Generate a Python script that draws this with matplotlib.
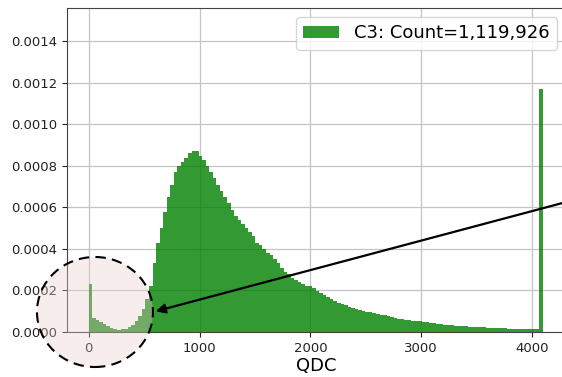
import numpy as np
import matplotlib
matplotlib.use("Agg")
import matplotlib.pyplot as plt
from matplotlib.patches import Ellipse
from matplotlib.ticker import FormatStrFormatter

# histogram bin width and normalised bin heights
bin_width = 32
density = [
    0.00023, 0.000066, 0.000060, 0.000050, 0.000040, 0.000030, 0.000020, 0.000014,
    0.000011, 0.000012, 0.000016, 0.000024, 0.000036, 0.000052, 0.000075, 0.000110,
    0.000160, 0.000220, 0.000330, 0.000430, 0.000500, 0.000580, 0.000650, 0.000710,
    0.000770, 0.000800, 0.000820, 0.000840, 0.000860, 0.000870, 0.000870, 0.000850,
    0.000830, 0.000800, 0.000770, 0.000740, 0.000710, 0.000680, 0.000650, 0.000620,
    0.000590, 0.000560, 0.000540, 0.000520, 0.000500, 0.000480, 0.000460, 0.000430,
    0.000420, 0.000400, 0.000380, 0.000370, 0.000350, 0.000330, 0.000310, 0.000290,
    0.000280, 0.000260, 0.000250, 0.000240, 0.000230, 0.000220, 0.000220, 0.000210,
    0.000198, 0.000188, 0.000178, 0.000168, 0.000158, 0.000150, 0.000141, 0.000134,
    0.000128, 0.000122, 0.000116, 0.000111, 0.000106, 0.000102, 0.000098, 0.000094,
    0.000091, 0.000088, 0.000084, 0.000080, 0.000076, 0.000072, 0.000068, 0.000064,
    0.000061, 0.000059, 0.000057, 0.000055, 0.000053, 0.000051, 0.000049, 0.000047,
    0.000045, 0.000042, 0.000040, 0.000037, 0.000035, 0.000033, 0.000032, 0.000030,
    0.000029, 0.000028, 0.000027, 0.000026, 0.000025, 0.000024, 0.000023, 0.000022,
    0.000021, 0.000021, 0.000020, 0.000019, 0.000018, 0.000017, 0.000016, 0.000016,
    0.000015, 0.000015, 0.000014, 0.000014, 0.000014, 0.000014, 0.000014, 0.00117,
]
label = "C3: Count=1,119,926"
x_ticks = [0, 1000, 2000, 3000, 4000]
y_ticks = [0.0, 0.0002, 0.0004, 0.0006, 0.0008, 0.0010, 0.0012, 0.0014]

edges = np.arange(len(density)) * bin_width

fig = plt.figure(figsize=(5.62, 3.77), dpi=100)
ax = fig.add_axes([0.1187, 0.1194, 0.888, 0.859])

ax.bar(edges, density, width=bin_width, align='edge', color='green',
       alpha=0.8, linewidth=0, label=label)

ax.set_xlim(-198, 4304)
ax.set_ylim(0, 0.00156)
ax.set_xticks(x_ticks)
ax.set_yticks(y_ticks)
ax.yaxis.set_major_formatter(FormatStrFormatter('%.4f'))
ax.tick_params(labelsize=9.5, colors='#222222')
ax.set_axisbelow(True)
ax.grid(True, color='#c4c4c4', linewidth=0.9)
for s in ax.spines.values():
    s.set_color('#444444')
ax.set_xlabel('QDC', fontsize=13, labelpad=2)
ax.legend(loc='upper right', fontsize=13)

# highlight circle around the low-QDC region (figure coords)
circ = Ellipse((0.169, 0.1724), 0.2064, 0.2918, transform=fig.transFigure,
               facecolor=(0.93, 0.8, 0.8, 0.35), edgecolor='black',
               linestyle=(0, (5, 3)), linewidth=1.5, zorder=5)
fig.add_artist(circ)

# arrow pointing into the circle
fig.add_artist(matplotlib.patches.FancyArrowPatch(
    (570 / 562, 1 - 201 / 377), (153 / 562, 1 - 312 / 377),
    transform=fig.transFigure, arrowstyle='-|>', mutation_scale=14,
    color='black', linewidth=1.6, zorder=6))

fig.savefig('out.png', dpi=100)
